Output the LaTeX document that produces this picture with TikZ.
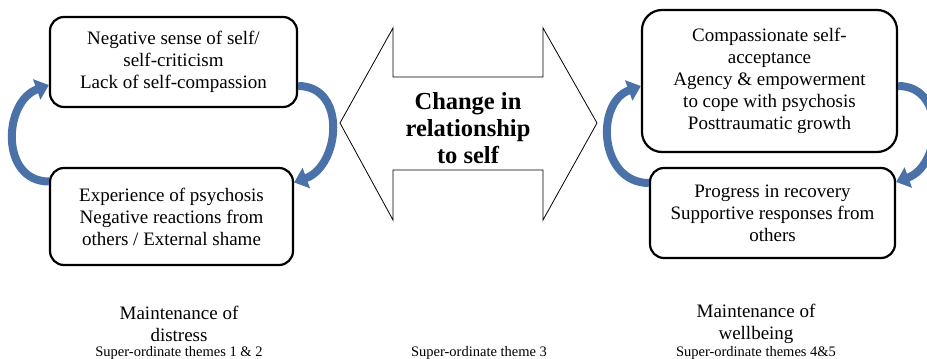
\documentclass[tikz,border=0pt]{standalone}
\usepackage{fontspec}
\setmainfont{Liberation Serif}
\usetikzlibrary{arrows.meta,positioning}
\definecolor{cycblue}{HTML}{4A72A8}
\tikzset{
  box/.style={draw=black,line width=2.2pt,rounded corners=14pt,align=center,inner sep=0pt,font=\fontsize{19}{22}\selectfont},
  cyc/.style={draw=cycblue,line width=8pt,-{Triangle[length=13pt,width=21pt]}},
  theme/.style={align=center,font=\fontsize{19}{22}\selectfont},
  subtheme/.style={anchor=base,font=\fontsize{14.5}{16}\selectfont}
}
\begin{document}
\begin{tikzpicture}[x=1pt,y=1pt]
\useasboundingbox (0,0) rectangle (927,359);
% \draw[help lines,step=50] (0,0) grid (927,359);
\node (ltop) [box,minimum width=247pt,minimum height=90pt] at (173.5,297) {Negative sense of self/\\self-criticism\\Lack of self-compassion};
\node (lbot) [box,minimum width=243pt,minimum height=97pt] at (171.5,142.5) {Experience of psychosis\\Negative reactions from\\others / External shame};
\node (rtop) [box,minimum width=255pt,minimum height=142pt,rounded corners=20pt] at (769.5,278) {Compassionate self-\\acceptance\\Agency \& empowerment\\to cope with psychosis\\Posttraumatic growth};
\node (rbot) [box,minimum width=245pt,minimum height=90pt] at (772.5,146) {Progress in recovery\\Supportive responses from\\others};
%
\draw[line width=0.8pt,line join=miter] (340,236) -- (393,331) -- (393,282) -- (543,282) -- (543,331) -- (597,236)
  -- (543,139) -- (543,189) -- (393,189) -- (393,139) -- cycle;
\node (change) [align=center,font=\fontsize{24.5}{27}\selectfont\bfseries] at (468,231) {Change in\\relationship\\to self};
%
\path[cyc] ([yshift=35pt]lbot.west) to[out=180,in=200,looseness=1.3] ([yshift=-23pt]ltop.west);
\path[cyc] ([yshift=-24pt]ltop.east) to[out=0,in=20,looseness=1.3] ([yshift=34pt]lbot.east);
\path[cyc] ([yshift=30pt]rbot.west) to[out=180,in=200,looseness=1.3] ([yshift=-5pt]rtop.west);
\path[cyc] ([yshift=-5pt]rtop.east) to[out=0,in=20,looseness=1.3] ([yshift=31pt]rbot.east);
%
\node (ldist) [theme] at (179,35) {Maintenance of\\distress};
\node (rwell) [theme] at (756,35) {Maintenance of\\wellbeing};
\node (lsub) [subtheme] at (179,2) {Super-ordinate themes 1 \& 2};
\node (csub) [subtheme] at (479,2) {Super-ordinate theme 3};
\node (rsub) [subtheme] at (756,2) {Super-ordinate themes 4\&5};
\end{tikzpicture}
\end{document}
